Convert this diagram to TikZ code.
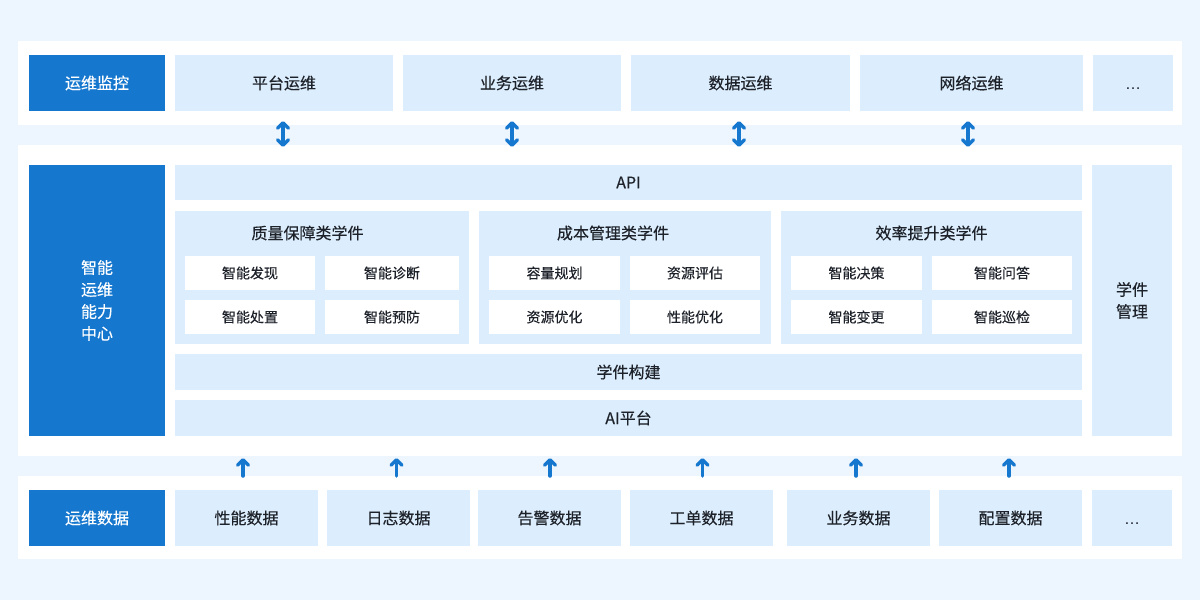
\documentclass[tikz,border=0pt]{standalone}
\usepackage{fontspec}
\setmainfont{Noto Sans CJK SC}[FakeBold=0.3]
\newfontfamily\latinf{Liberation Sans}
\usetikzlibrary{arrows.meta}
\definecolor{bgc}{HTML}{EDF5FE}
\definecolor{lbox}{HTML}{DCEEFD}
\definecolor{dblue}{HTML}{1677CE}
\definecolor{txt}{HTML}{1D2129}
\newcommand\bx[7]{\node[#6, minimum width={(#4-#2)*1pt}, minimum height={(#5-#3)*1pt}] (#1) at ({(#2+#4)/2},{(#3+#5)/2}) {#7};}
\newcommand\mydots{\raisebox{-6pt}{\latinf …}}
\tikzset{
  base/.style={inner sep=0pt, outer sep=0pt, draw=none, align=center},
  panel/.style={base, fill=white},
  lb/.style={base, fill=lbox, text=txt, font=\fontsize{16}{22}\selectfont},
  dotsb/.style={lb, text height=0pt, text depth=0pt},
  db/.style={base, fill=dblue, text=white, font=\fontsize{16}{22}\selectfont},
  grp/.style={base, fill=lbox},
  wb/.style={base, fill=white, text=txt, font=\fontsize{14}{18}\selectfont},
  head/.style={base, text=txt, font=\fontsize{16}{22}\selectfont},
  tipb/.tip={Straight Barb[length=5.5pt, width=11pt, line cap=round, line join=round]},
  arr/.style={draw=dblue, line width=3.5pt, line cap=round, arrows={-tipb}},
  darr/.style={draw=dblue, line width=3.5pt, line cap=round, arrows={tipb-tipb}}
}
\begin{document}
\begin{tikzpicture}[x=1pt, y=-1pt]
\fill[bgc] (0,0) rectangle (1200,600);
\useasboundingbox (0,0) rectangle (1200,600);
% panels
\bx{toppanel}{18}{41}{1182}{125}{panel}{}
\bx{midpanel}{18}{145}{1182}{456}{panel}{}
\bx{botpanel}{18}{476}{1182}{559}{panel}{}
% top row
\bx{mon}{29}{55}{165}{111}{db}{运维监控}
\bx{t1}{175}{55}{393}{111}{lb}{平台运维}
\bx{t2}{403}{55}{621}{111}{lb}{业务运维}
\bx{t3}{631}{55}{850}{111}{lb}{数据运维}
\bx{t4}{860}{55}{1083}{111}{lb}{网络运维}
\bx{t5}{1093}{55}{1173}{111}{dotsb}{\mydots}
% middle
\bx{core}{29}{165}{165}{436}{db}{智能\\运维\\能力\\中心}
\bx{api}{175}{165}{1082}{200}{lb}{API}
\bx{g1}{175}{211}{469}{344}{grp}{}
\bx{g2}{479}{211}{771}{344}{grp}{}
\bx{g3}{781}{211}{1082}{344}{grp}{}
\node[head] (h1) at (307.5,233) {质量保障类学件};
\node[head] (h2) at (613,233) {成本管理类学件};
\node[head] (h3) at (931.5,233) {效率提升类学件};
\bx{a1}{185}{256}{315}{290}{wb}{智能发现}
\bx{a2}{325}{256}{459}{290}{wb}{智能诊断}
\bx{a3}{185}{300}{315}{334}{wb}{智能处置}
\bx{a4}{325}{300}{459}{334}{wb}{智能预防}
\bx{b1}{489}{256}{620}{290}{wb}{容量规划}
\bx{b2}{630}{256}{760}{290}{wb}{资源评估}
\bx{b3}{489}{300}{620}{334}{wb}{资源优化}
\bx{b4}{630}{300}{760}{334}{wb}{性能优化}
\bx{c1}{791}{256}{922}{290}{wb}{智能决策}
\bx{c2}{932}{256}{1072}{290}{wb}{智能问答}
\bx{c3}{791}{300}{922}{334}{wb}{智能变更}
\bx{c4}{932}{300}{1072}{334}{wb}{智能巡检}
\bx{build}{175}{354}{1082}{390}{lb}{学件构建}
\bx{ai}{175}{400}{1082}{436}{lb}{AI平台}
\bx{mgmt}{1092}{165}{1172}{436}{lb}{学件\\管理}
% bottom row
\bx{data}{29}{490}{165}{546}{db}{运维数据}
\bx{d1}{175}{490}{318}{546}{lb}{性能数据}
\bx{d2}{327}{490}{470}{546}{lb}{日志数据}
\bx{d3}{478}{490}{621}{546}{lb}{告警数据}
\bx{d4}{630}{490}{773}{546}{lb}{工单数据}
\bx{d5}{787}{490}{930}{546}{lb}{业务数据}
\bx{d6}{939}{490}{1082}{546}{lb}{配置数据}
\bx{d7}{1092}{490}{1172}{546}{dotsb}{\mydots}
% double arrows
\foreach \n/\dx in {t1/-1, t2/0, t3/-1.5, t4/-3.5}{
  \draw[darr, shorten <=10pt, shorten >=18pt] ([xshift=\dx pt]\n.south) -- ([xshift=\dx pt]\n.south |- api.north);
}
% up arrows
\foreach \n/\dx in {d1/-3.5, d2/-2, d3/0.5, d4/1, d5/-2.5, d6/-1.5}{
  \draw[arr, shorten <=14pt, shorten >=22pt] ([xshift=\dx pt]\n.north) -- ([xshift=\dx pt]\n.north |- ai.south);
}
\end{tikzpicture}
\end{document}
